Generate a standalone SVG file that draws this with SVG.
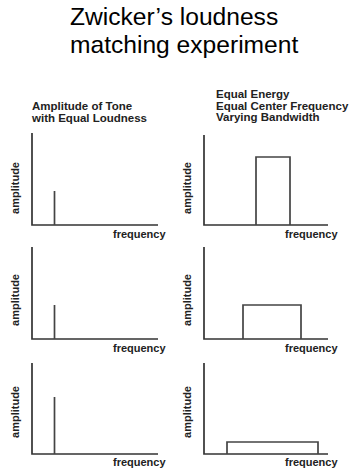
<svg xmlns="http://www.w3.org/2000/svg" width="363" height="476" viewBox="0 0 363 476">
<style>
.title{font-family:"Liberation Sans",Arial,sans-serif;font-size:24.6px;fill:#000}
.head{font-family:"Liberation Sans",Arial,sans-serif;font-size:11.5px;font-weight:bold;fill:#222}
.lab{font-family:"Liberation Sans",Arial,sans-serif;font-size:11px;font-weight:bold;fill:#222}
.ax{fill:none;stroke:#333;stroke-width:1.7}
.sig{fill:none;stroke:#444;stroke-width:1.7}
</style>
<rect width="363" height="476" fill="#fff"/>
<text class="title" x="70" y="25">Zwicker’s loudness</text>
<text class="title" x="70" y="53">matching experiment</text>
<text class="head" x="32" y="110">Amplitude of Tone</text>
<text class="head" x="32" y="122">with Equal Loudness</text>
<text class="head" x="216" y="98">Equal Energy</text>
<text class="head" x="216" y="109.5">Equal Center Frequency</text>
<text class="head" x="216" y="121">Varying Bandwidth</text>
<g id="panel1">
<path class="ax" d="M32,133 V225 H158"/>
<path class="sig" d="M54.5,225 V191"/>
<text class="lab" x="113" y="238">frequency</text>
<text class="lab" transform="translate(19,188) rotate(-90)" text-anchor="middle">amplitude</text>
</g>
<g id="panel2">
<path class="ax" d="M204,135 V225 H328"/>
<path class="sig" d="M256,225 V157 H290 V225"/>
<text class="lab" x="285" y="238">frequency</text>
<text class="lab" transform="translate(191,188) rotate(-90)" text-anchor="middle">amplitude</text>
</g>
<g id="panel3">
<path class="ax" d="M32,247 V339 H158"/>
<path class="sig" d="M54.5,339 V305"/>
<text class="lab" x="113" y="352">frequency</text>
<text class="lab" transform="translate(19,300) rotate(-90)" text-anchor="middle">amplitude</text>
</g>
<g id="panel4">
<path class="ax" d="M204,247 V339 H328"/>
<path class="sig" d="M243,339 V305 H301 V339"/>
<text class="lab" x="285" y="352">frequency</text>
<text class="lab" transform="translate(191,300) rotate(-90)" text-anchor="middle">amplitude</text>
</g>
<g id="panel5">
<path class="ax" d="M32,363 V454 H158"/>
<path class="sig" d="M54.5,454 V397"/>
<text class="lab" x="113" y="466">frequency</text>
<text class="lab" transform="translate(19,412) rotate(-90)" text-anchor="middle">amplitude</text>
</g>
<g id="panel6">
<path class="ax" d="M204,363 V454 H328"/>
<path class="sig" d="M227,454 V442 H318 V454"/>
<text class="lab" x="285" y="466">frequency</text>
<text class="lab" transform="translate(191,412) rotate(-90)" text-anchor="middle">amplitude</text>
</g>
</svg>
